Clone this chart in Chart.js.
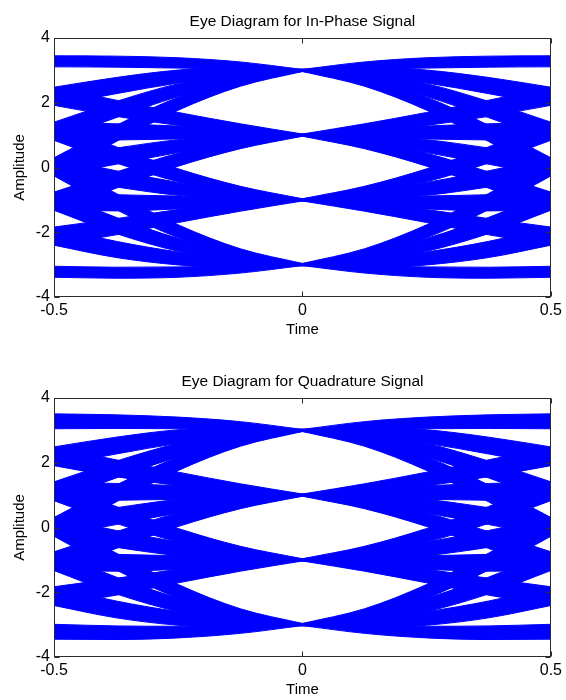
<!DOCTYPE html>
<html><head><meta charset="utf-8">
<script src="https://cdn.jsdelivr.net/npm/chart.js"></script>
<style>
html,body{margin:0;padding:0;background:#fff;}
#wrap{position:relative;width:566px;height:700px;background:#fff;}
canvas{position:absolute;left:0;}
#c1{top:0;}
#c2{top:360px;}
</style></head><body>
<div id="wrap"><canvas id="c1" width="566" height="340"></canvas><canvas id="c2" width="566" height="340"></canvas></div>
<script>
// ---- data ----
const chartTitles = ['Eye Diagram for In-Phase Signal', 'Eye Diagram for Quadrature Signal'];
const xAxisTitle = 'Time';
const yAxisTitle = 'Amplitude';
const xTickValues = [-0.5, 0, 0.5];
const yTickValues = [-4, -2, 0, 2, 4];
// distance from the sampling instant (t = 0) at which each bundle was read, same on both sides
const timeFromCentre = [0, 0.125, 0.25, 0.375, 0.5];
// centre of every bundle of traces (symbol level at t = 0 towards the neighbouring symbol)
const bundleCentres = [
  [ 3,  3.15,  3.23,  3.27,  3.28],
  [ 3,  2.98,  2.81,  2.53,  2.20],
  [ 3,  2.81,  2.39,  1.79,  1.12],
  [ 3,  2.64,  1.97,  1.05,  0.02],
  [ 1,  1.22,  1.50,  1.83,  2.20],
  [ 1,  1.05,  1.08,  1.10,  1.12],
  [ 1,  0.88,  0.66,  0.35,  0.02],
  [ 1,  0.71,  0.24, -0.39, -1.04],
  [-1, -0.71, -0.24,  0.39,  1.12],
  [-1, -0.88, -0.66, -0.35,  0.02],
  [-1, -1.05, -1.08, -1.09, -1.04],
  [-1, -1.22, -1.50, -1.83, -2.12],
  [-3, -2.64, -1.97, -1.05,  0.02],
  [-3, -2.81, -2.39, -1.79, -1.04],
  [-3, -2.98, -2.81, -2.53, -2.12],
  [-3, -3.15, -3.23, -3.25, -3.22]
];
// rows of bundleCentres that form the flat outer bands
const outerBundleRows = [0, 15];
// half thickness of the bundles at the same instants
const inPhaseOuterHalfWidth    = [0.03, 0.11, 0.16, 0.17, 0.17];
const inPhaseInnerHalfWidth    = [0.035, 0.13, 0.20, 0.25, 0.28];
const quadratureOuterHalfWidth = [0.03, 0.12, 0.18, 0.21, 0.23];
const quadratureInnerHalfWidth = [0.035, 0.13, 0.21, 0.26, 0.29];

// ---- chart construction ----
const BLUE = 'rgb(0,0,255)';
const FONT = '"Liberation Sans", Arial, Helvetica, sans-serif';
Chart.defaults.font.family = FONT;
Chart.defaults.font.size = 15;
Chart.defaults.color = '#000';

function buildDatasets(outerHalf, innerHalf) {
  const sets = [];
  bundleCentres.forEach((centre, row) => {
    const half = outerBundleRows.includes(row) ? outerHalf : innerHalf;
    [-1, 1].forEach(side => {
      let upper = timeFromCentre.map((t, i) => ({x: side * t, y: centre[i] + half[i]}));
      let lower = timeFromCentre.map((t, i) => ({x: side * t, y: centre[i] - half[i]}));
      if (side < 0) { upper = upper.reverse(); lower = lower.reverse(); }
      const style = {borderColor: BLUE, backgroundColor: BLUE, borderWidth: 1, pointRadius: 0,
                     cubicInterpolationMode: 'monotone'};
      sets.push(Object.assign({data: upper, fill: '+1'}, style));
      sets.push(Object.assign({data: lower, fill: false}, style));
    });
  });
  return sets;
}

const boxPlugin = {
  id: 'matlabBox',
  afterDatasetsDraw(chart) {
    const {ctx, chartArea: a, scales: {x, y}} = chart;
    ctx.save();
    ctx.strokeStyle = '#2b2b2b';
    ctx.lineWidth = 1;
    const L = Math.round(a.left) + 0.5, R = Math.round(a.right) - 0.5;
    const T = Math.round(a.top) + 0.5, B = Math.round(a.bottom) - 0.5;
    ctx.strokeRect(L, T, R - L, B - T);
    ctx.beginPath();
    const len = 5;
    xTickValues.forEach(v => {
      const px = Math.round(x.getPixelForValue(v)) + 0.5;
      ctx.moveTo(px, B); ctx.lineTo(px, B - len);
      ctx.moveTo(px, T); ctx.lineTo(px, T + len);
    });
    yTickValues.forEach(v => {
      const py = Math.round(y.getPixelForValue(v)) + 0.5;
      ctx.moveTo(L, py); ctx.lineTo(L + len, py);
      ctx.moveTo(R, py); ctx.lineTo(R - len, py);
    });
    ctx.stroke();
    ctx.restore();
  }
};

function makeChart(id, title, outerHalf, innerHalf) {
  return new Chart(document.getElementById(id), {
    type: 'line',
    data: {datasets: buildDatasets(outerHalf, innerHalf)},
    plugins: [boxPlugin],
    options: {
      responsive: false, animation: false, devicePixelRatio: 1,
      layout: {padding: {left: 0, right: 13, top: 0, bottom: 0}},
      plugins: {
        legend: {display: false}, tooltip: {enabled: false},
        title: {display: true, text: title, color: '#000', fullSize: false,
                font: {size: 15.5, weight: 'normal'}, padding: {top: 12, bottom: 7.4}}
      },
      scales: {
        x: {
          type: 'linear', min: -0.5, max: 0.5,
          afterBuildTicks: s => { s.ticks = xTickValues.map(v => ({value: v})); },
          afterFit: s => { s.height = 43; },
          ticks: {padding: 4, color: '#000', maxRotation: 0, autoSkip: false,
                  font: {size: 16}, callback: v => String(v)},
          grid: {display: false, drawTicks: false}, border: {display: false},
          title: {display: true, text: xAxisTitle, color: '#000', font: {size: 15},
                  padding: {top: 0, bottom: 1}}
        },
        y: {
          type: 'linear', min: -4, max: 4,
          afterBuildTicks: s => { s.ticks = yTickValues.map(v => ({value: v})); },
          afterFit: s => { s.width = 54; },
          ticks: {padding: 4, color: '#000', autoSkip: false, font: {size: 16},
                  callback: v => String(v)},
          grid: {display: false, drawTicks: false}, border: {display: false},
          title: {display: true, text: yAxisTitle, color: '#000', font: {size: 15},
                  padding: {top: 11, bottom: 0}}
        }
      }
    }
  });
}

makeChart('c1', chartTitles[0], inPhaseOuterHalfWidth, inPhaseInnerHalfWidth);
makeChart('c2', chartTitles[1], quadratureOuterHalfWidth, quadratureInnerHalfWidth);
</script>
</body></html>
